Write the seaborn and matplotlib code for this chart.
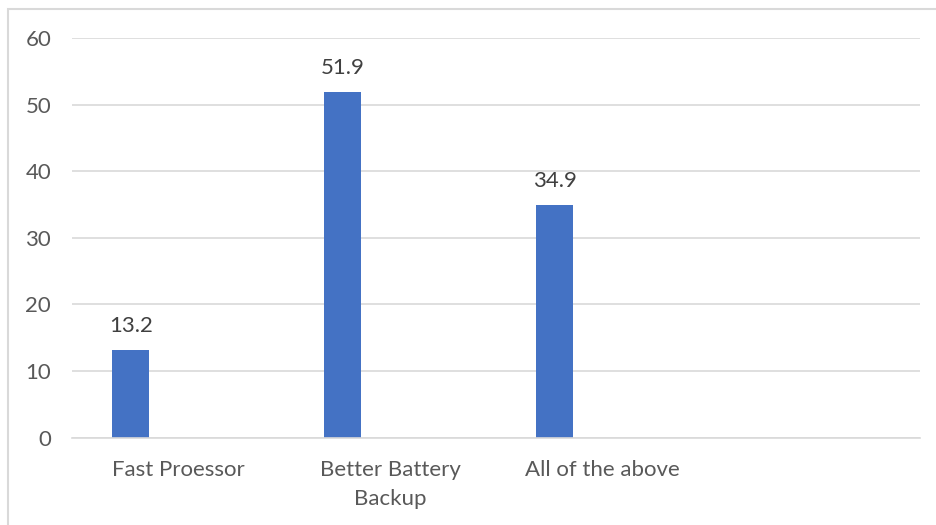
import matplotlib
matplotlib.use("Agg")
import matplotlib.pyplot as plt
from matplotlib.patches import Rectangle
import seaborn as sns
import pandas as pd
import numpy as np

# Survey shares (%) per preferred feature
categories = ["Fast Proessor", "Better Battery\nBackup", "All of the above", " "]
values = [13.2, 51.9, 34.9, np.nan]
series = ["Series1", "Series2", "Series3"]

rows = []
for cat, val in zip(categories, values):
    for s in series:
        rows.append({"category": cat, "series": s,
                     "value": val if s == "Series1" else np.nan})
df = pd.DataFrame(rows)

sns.set_theme(style="white")
plt.rcParams["font.family"] = ["Lato", "DejaVu Sans"]

fig = plt.figure(figsize=(9.37, 5.25), dpi=100)
ax = fig.add_axes([72 / 937, 1 - 437.5 / 525, 848 / 937, 399.5 / 525])

bar_color = "#4472C4"
sns.barplot(data=df, x="category", y="value", hue="series",
            order=categories, hue_order=series,
            palette=[bar_color, bar_color, bar_color],
            width=0.668, gap=0.216, dodge=True, legend=False,
            errorbar=None, ax=ax, linewidth=0, saturation=1)

ax.set_ylim(0, 60)
ax.set_xlim(-0.5, len(categories) - 0.5)
ax.set_yticks(range(0, 61, 10))
ax.yaxis.grid(True, color="#D9D9D9", linewidth=1.2)
ax.set_axisbelow(True)
for side in ["top", "right", "left"]:
    ax.spines[side].set_visible(False)
ax.spines["bottom"].set_color("#D9D9D9")
ax.spines["bottom"].set_linewidth(1.2)

ax.set_xlabel("")
ax.set_ylabel("")
ax.tick_params(axis="y", length=0, pad=15, labelsize=16, labelcolor="#595959")
ax.tick_params(axis="x", length=0, pad=16, labelsize=16, labelcolor="#595959")
for lbl in ax.get_xticklabels():
    lbl.set_linespacing(1.55)

cont = ax.containers[0]
ax.bar_label(cont, labels=[f"{v:.1f}" for v in values[:3]], padding=10,
             fontsize=16, color="#404040")

# chart-area frame
fig.add_artist(Rectangle((8 / 937, -0.1), 1.2, 1.1 - 9 / 525,
                         transform=fig.transFigure, fill=False,
                         edgecolor="#D9D9D9", linewidth=1.5))

fig.savefig("out.png", dpi=100, facecolor="white")
